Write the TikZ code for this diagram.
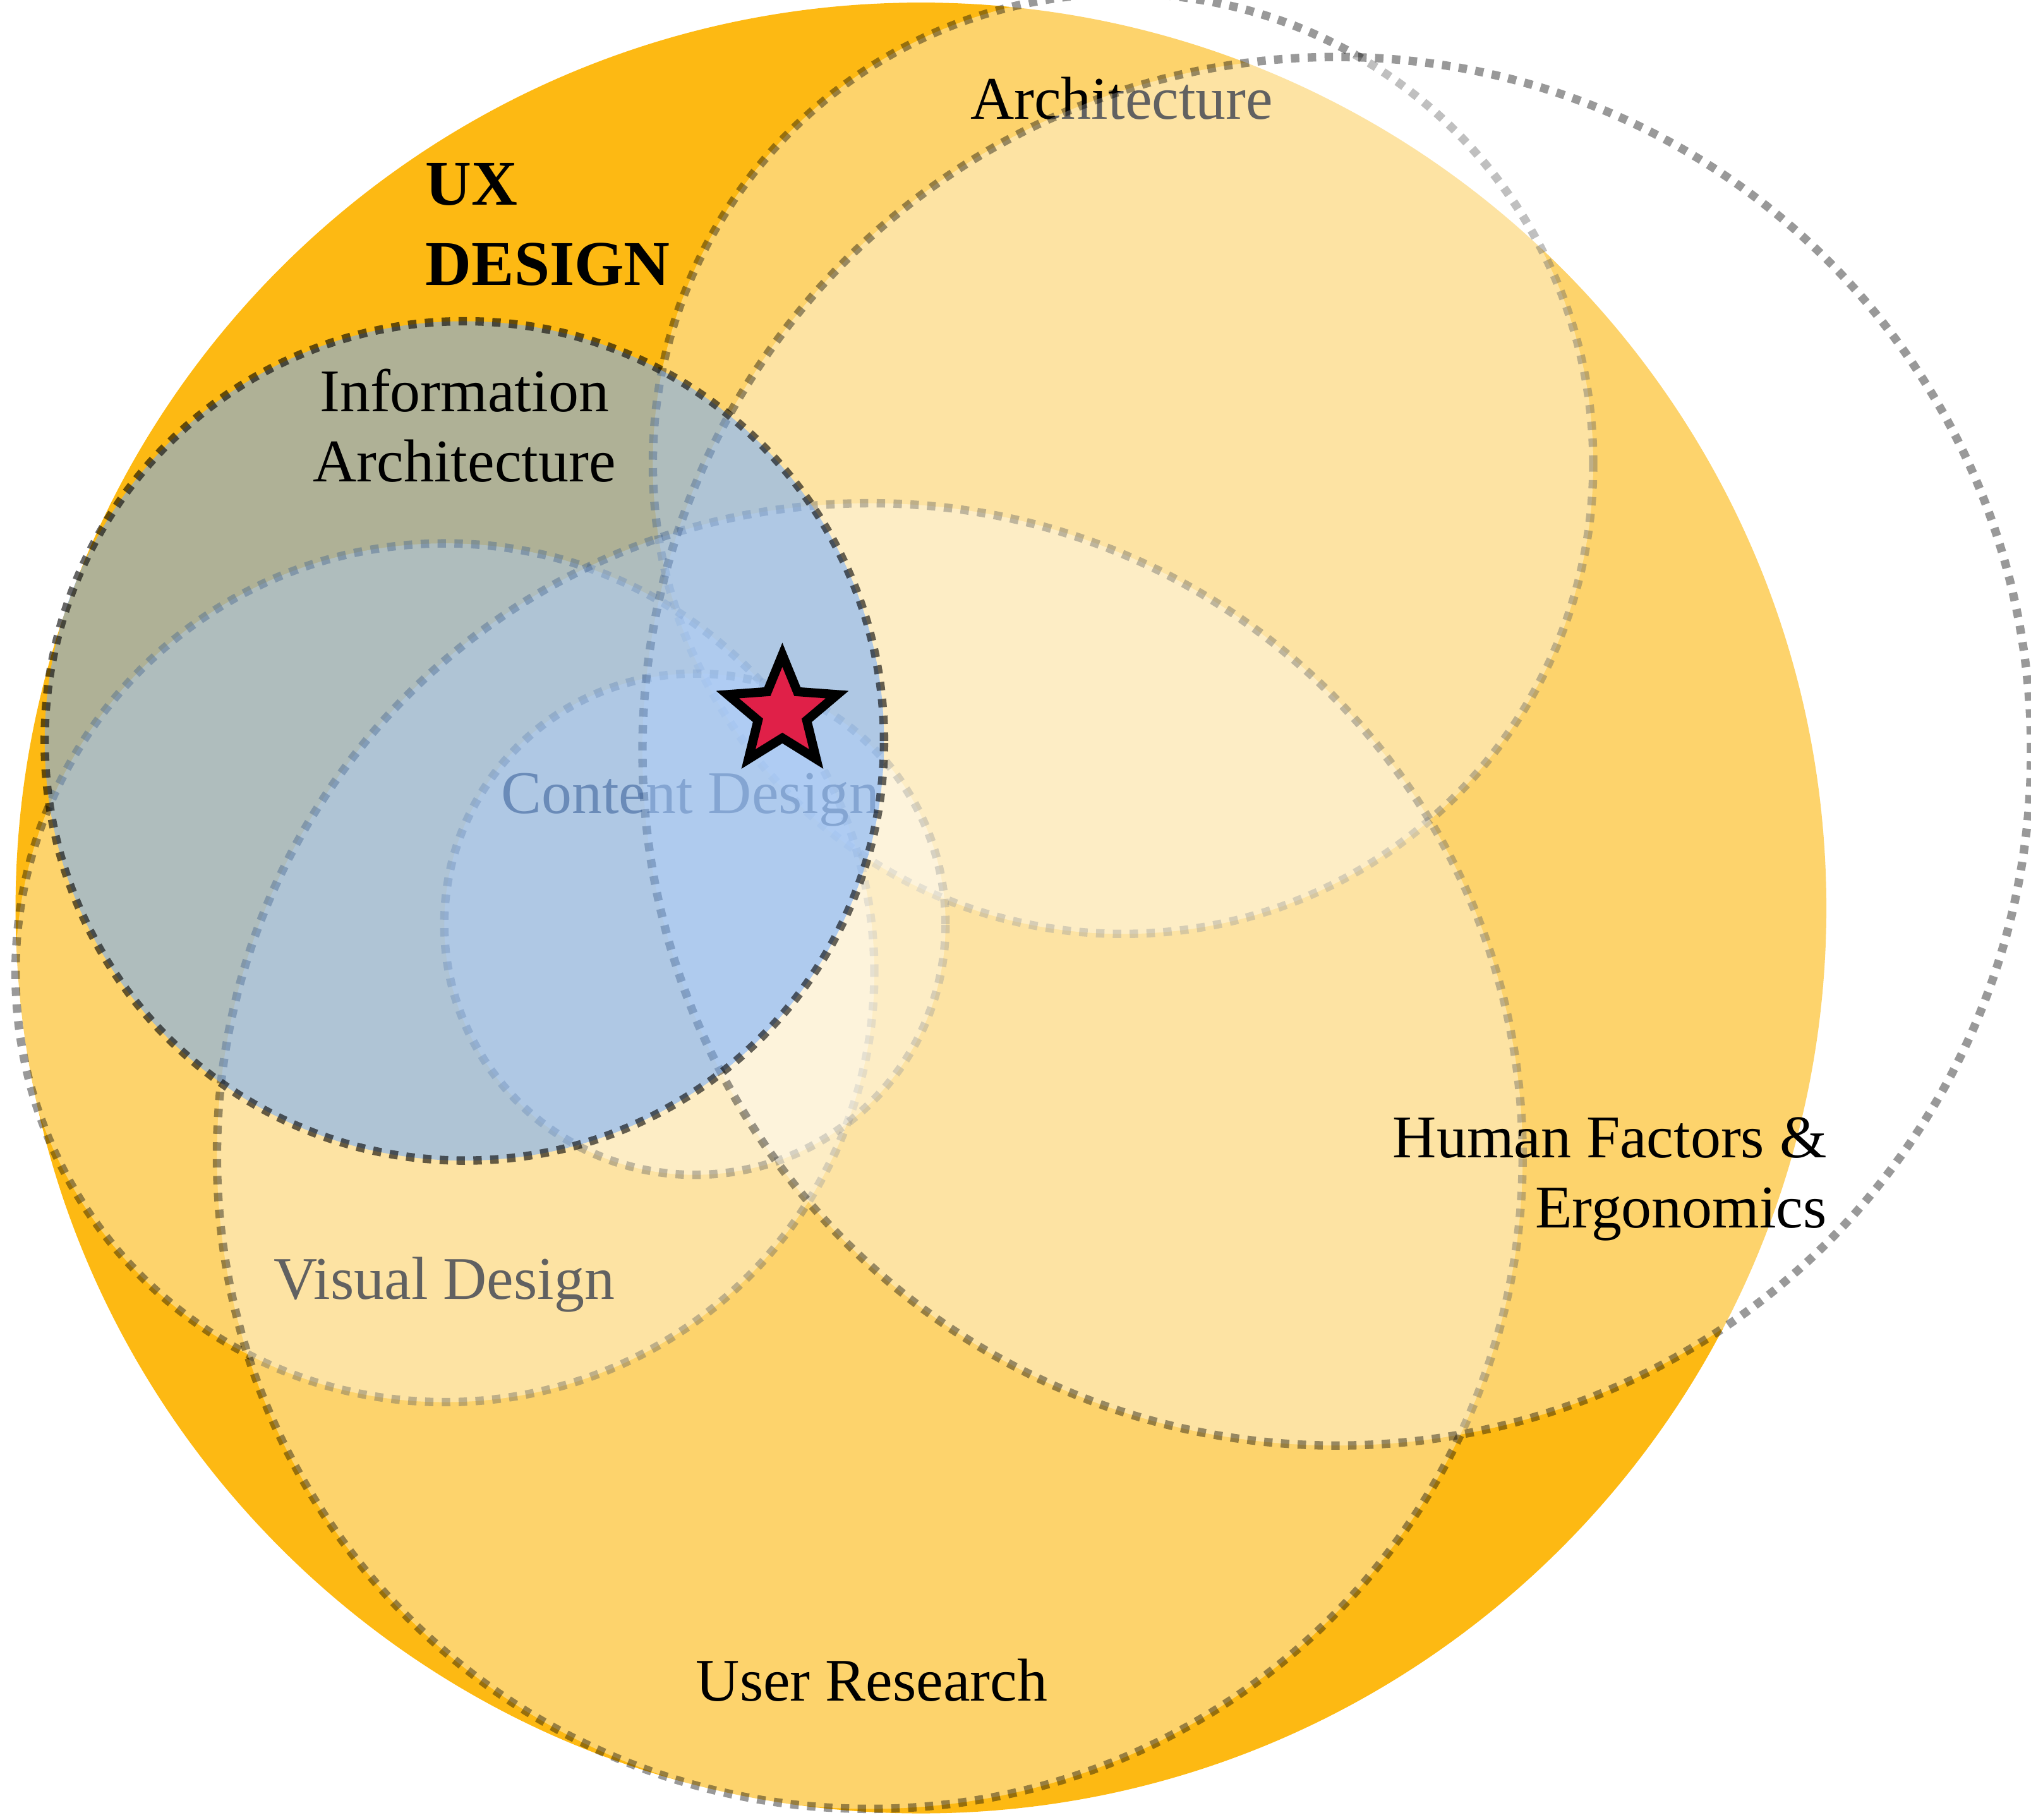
\documentclass[tikz,border=0pt]{standalone}
\usepackage{fontspec}
\setmainfont{Liberation Serif}
\usetikzlibrary{shapes.geometric}
\definecolor{uxgold}{RGB}{253,185,19}
\definecolor{iablue}{RGB}{114,172,253}
\definecolor{starred}{RGB}{224,32,72}
\tikzset{
  field/.style={fill=white, fill opacity=0.38, draw=black, draw opacity=0.4,
                line width=0.65mm, dash pattern=on 0.65mm off 0.65mm},
  iafield/.style={fill=iablue, fill opacity=0.56, draw=black, draw opacity=0.6,
                line width=0.65mm, dash pattern=on 0.65mm off 0.65mm},
  fieldname/.style={font=\fontsize{13.3}{15.4}\selectfont, inner sep=0pt, anchor=base}
}
\begin{document}
\begin{tikzpicture}
\useasboundingbox (0,0) rectangle (15.68,14.05);
% the whole of UX
\fill[uxgold] (7.11,7.04) circle (6.99);
\node[anchor=base west, align=left, inner sep=0pt,
      font=\fontsize{14}{17.6}\selectfont\bfseries] (ux) at (3.28,11.85) {UX\\DESIGN};
% fields, back to front
\draw[field] (8.67,10.47) circle (3.63);
\node[fieldname] (arch) at (8.66,13.13) {Architecture};
\draw[field] (3.435,6.54) circle (3.315);
\node[fieldname] (visual) at (3.43,4.02) {Visual Design};
\draw[field] (5.365,6.915) circle (1.935);
\node[fieldname] (content) at (5.33,7.77) {Content Design};
\draw[field] (6.715,5.125) circle (5.04);
\node[fieldname] (research) at (6.73,0.92) {User Research};
\draw[field] (10.32,8.25) circle (5.36);
\node[fieldname, anchor=base east, align=right] (human) at (14.11,4.57) {Human Factors \&\\Ergonomics};
% information architecture on top
\draw[iafield] (3.585,8.33) circle (3.24);
\node[fieldname, align=center] (info) at (3.585,10.33) {Information\\Architecture};
\node[star, star points=5, star point ratio=2.25, minimum size=8.9mm, inner sep=0pt,
      fill=starred, draw=black, line width=2pt] (here) at (6.04,8.55) {};
\end{tikzpicture}
\end{document}
